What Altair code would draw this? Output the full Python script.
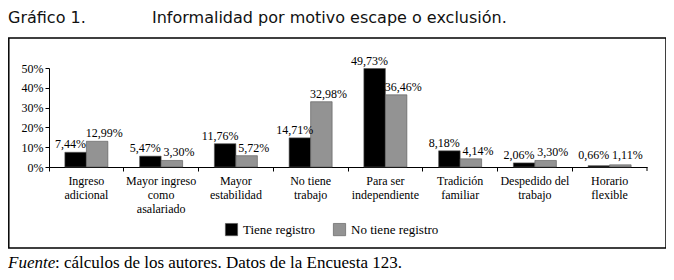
import altair as alt
import pandas as pd

categories = ["Ingreso|adicional", "Mayor ingreso|como|asalariado", "Mayor|estabilidad",
              "No tiene|trabajo", "Para ser|independiente", "Tradición|familiar",
              "Despedido del|trabajo", "Horario|flexible"]
series = ["Tiene registro", "No tiene registro"]
tiene_registro = [7.44, 5.47, 11.76, 14.71, 49.73, 8.18, 2.06, 0.66]
no_tiene_registro = [12.99, 3.30, 5.72, 32.98, 36.46, 4.14, 3.30, 1.11]
y_ticks = [0, 10, 20, 30, 40, 50]

title_num = "Gráfico 1."
title_text = "Informalidad por motivo escape o exclusión."
foot_italic = "Fuente"
foot_text = ": cálculos de los autores. Datos de la Encuesta 123."

rows = []
for c, a, b in zip(categories, tiene_registro, no_tiene_registro):
    rows.append({"cat": c, "serie": series[0], "value": a})
    rows.append({"cat": c, "serie": series[1], "value": b})
df = pd.DataFrame(rows)

SERIF = "Liberation Serif"
W, H = 598, 99

x_axis = alt.Axis(title=None, ticks=True, tickSize=4, tickColor="black", bandPosition=0,
                  labelExpr="split(datum.label, '|')",
                  labelLineHeight=14, labelPadding=4, labelAngle=0, labelAlign="center",
                  domainColor="black", grid=False)
y_axis = alt.Axis(title=None, values=y_ticks, labelExpr="datum.value + '%'",
                  grid=False, tickSize=4, tickColor="black", domainColor="black",
                  labelPadding=2)
x_scale = alt.Scale(paddingInner=0, paddingOuter=0)
xo_scale = alt.Scale(paddingInner=0, paddingOuter=0.738)
y_scale = alt.Scale(domain=[0, 50], nice=False)

base = alt.Chart(df)

bars = base.mark_bar(stroke="#555555", strokeWidth=0.6).encode(
    x=alt.X("cat:N", sort=categories, scale=x_scale, axis=x_axis),
    xOffset=alt.XOffset("serie:N", sort=series, scale=xo_scale),
    y=alt.Y("value:Q", scale=y_scale, axis=y_axis),
    color=alt.Color("serie:N", sort=series,
                    scale=alt.Scale(domain=series, range=["#000000", "#939393"]),
                    legend=alt.Legend(title=None, orient="none", legendX=176, legendY=155,
                                      direction="horizontal", symbolType="square",
                                      symbolSize=150, symbolStrokeColor="#555555",
                                      symbolStrokeWidth=0.6,
                                      columnPadding=16, labelOffset=5))
)

def labels(serie, dx):
    return base.transform_filter(alt.datum.serie == serie).transform_calculate(
        label="replace(format(datum.value, '.2f'), '.', ',') + '%'",
        label_y="max(datum.value, 2)"
    ).mark_text(font=SERIF, fontSize=12, color="black", dy=-8, dx=dx,
                baseline="middle").encode(
        x=alt.X("cat:N", sort=categories, scale=x_scale, axis=x_axis),
        xOffset=alt.XOffset("serie:N", sort=series, scale=xo_scale),
        y=alt.Y("label_y:Q", scale=y_scale, axis=y_axis),
        text="label:N")

one = alt.Data(values=[{}])
end_tick = alt.Chart(one).mark_rule(color="black", strokeWidth=1).encode(
    x=alt.value(W), y=alt.value(H), y2=alt.value(H + 4))
box = alt.Chart(one).mark_rect(fill=None, stroke="black", strokeWidth=1.5).encode(
    x=alt.value(-40.2), x2=alt.value(617), y=alt.value(-30), y2=alt.value(180))
t1 = alt.Chart(one).mark_text(font="DejaVu Sans", fontSize=16, align="left",
                              baseline="alphabetic", color="#111").encode(
    x=alt.value(-41), y=alt.value(-45), text=alt.value(title_num))
t2 = alt.Chart(one).mark_text(font="DejaVu Sans", fontSize=16, align="left",
                              baseline="alphabetic", color="#111").encode(
    x=alt.value(103), y=alt.value(-45), text=alt.value(title_text))
f1 = alt.Chart(one).mark_text(font=SERIF, fontSize=17, fontStyle="italic", align="left",
                              baseline="alphabetic", color="black").encode(
    x=alt.value(-41), y=alt.value(200), text=alt.value(foot_italic))
f2 = alt.Chart(one).mark_text(font=SERIF, fontSize=17, align="left",
                              baseline="alphabetic", color="black").encode(
    x=alt.value(-41 + 47), y=alt.value(200), text=alt.value(foot_text))

chart = alt.layer(box, t1, t2, end_tick, bars,
                  labels(series[0], -5), labels(series[1], 7), f1, f2).properties(
    width=W, height=H,
    padding={"left": 41, "top": 60, "right": 19, "bottom": 105},
    autosize=alt.AutoSizeParams(type="none"),
    background="white",
).configure_view(stroke=None).configure_axis(
    labelFont=SERIF, labelFontSize=12, labelColor="black", domainWidth=1
).configure_legend(
    labelFont=SERIF, labelFontSize=13, labelColor="black"
).configure_text(font=SERIF)

chart.save("out.html", embed_options={"renderer": "svg", "actions": False})
